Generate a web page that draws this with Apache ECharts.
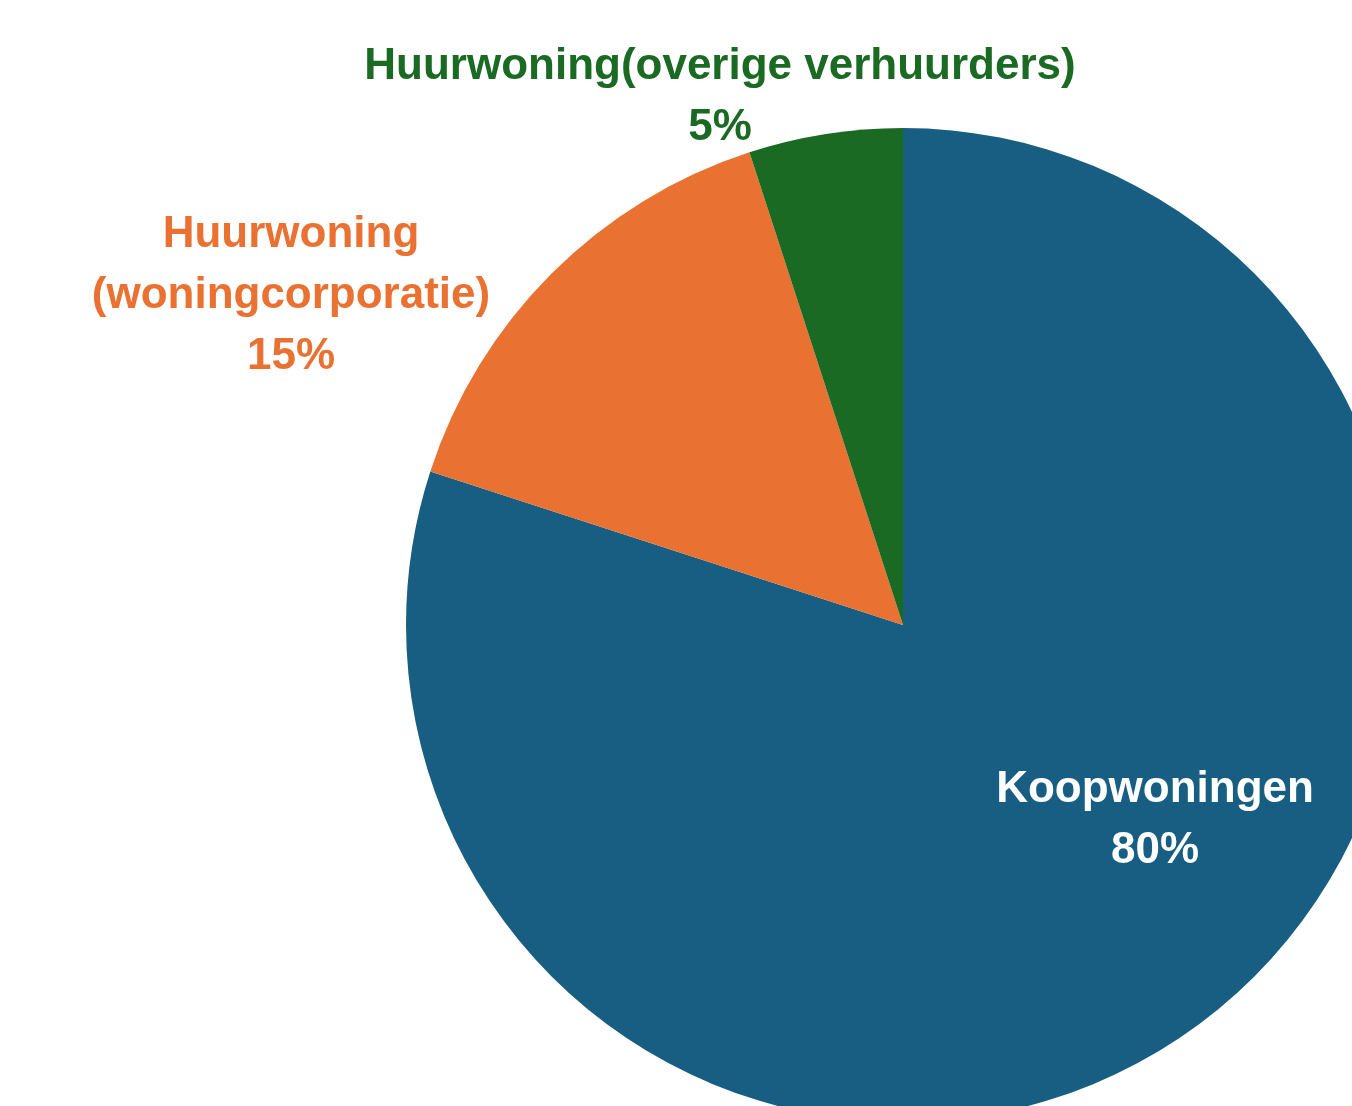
<!DOCTYPE html>
<html>
<head>
<meta charset="utf-8">
<script src="https://cdn.jsdelivr.net/npm/echarts@6/dist/echarts.min.js"></script>
<style>
    html, body { margin: 0; padding: 0; background: #ffffff; }
    #chart { width: 1352px; height: 1106px; }
</style>
</head>
<body>
<div id="chart"></div>
<script>
// woningvoorraad naar eigendom
var names = ['Koopwoningen', 'Huurwoning\n(woningcorporatie)', 'Huurwoning(overige verhuurders)'];
var values = [80, 15, 5];
var colors = ['#175E82', '#E97132', '#1B6A24'];
var labelColors = ['#ffffff', '#E97132', '#1B6A24'];

// label anchor per slice (centre of the text block)
var labelSpots = [[1155, 820], [291, 296], [720, 97]];

var chart = echarts.init(document.getElementById('chart'));

var pieData = [];
for (var i = 0; i < names.length; i++) {
    pieData.push({
        name: names[i],
        value: values[i],
        itemStyle: { color: colors[i] },
        label: { color: labelColors[i] }
    });
}

var option = {
    animation: false,
    series: [{
        type: 'pie',
        center: [903, 625],
        radius: 497,
        startAngle: 90,
        clockwise: true,
        avoidLabelOverlap: false,
        label: {
            show: true,
            position: 'inside',
            formatter: '{b}\n{d}%',
            fontFamily: '"Liberation Sans", Arial, sans-serif',
            fontWeight: 'bold',
            fontSize: 44,
            lineHeight: 61,
            align: 'center'
        },
        labelLine: { show: false },
        labelLayout: function (params) {
            var spot = labelSpots[params.dataIndex];
            return {
                x: spot[0],
                y: spot[1],
                align: 'center',
                verticalAlign: 'middle'
            };
        },
        emphasis: { disabled: true },
        data: pieData
    }]
};

chart.setOption(option);
</script>
</body>
</html>
